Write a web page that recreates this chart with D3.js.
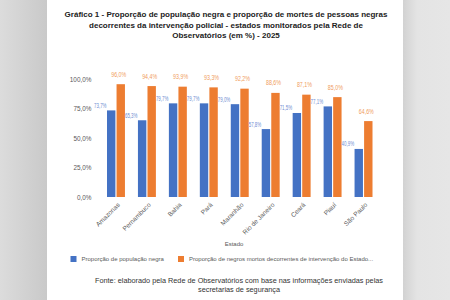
<!DOCTYPE html>
<html>
<head>
<meta charset="utf-8">
<script src="https://cdn.jsdelivr.net/npm/d3@7"></script>
<style>
  body { margin: 0; background: #fff; }
  svg { display: block; }
</style>
</head>
<body>
<script>
const estados = ['Amazonas', 'Pernambuco', 'Bahia', 'Pará', 'Maranhão', 'Rio de Janeiro', 'Ceará', 'Piauí', 'São Paulo']
const populacaoNegra = [73.7, 65.3, 79.7, 79.7, 79.0, 57.8, 71.5, 77.1, 40.9]
const mortesNegros = [96.0, 94.4, 93.9, 93.3, 92.2, 88.6, 87.1, 85.0, 64.6]
const yTicks = [0, 25, 50, 75, 100]
const series = ['Proporção de população negra', 'Proporção de negros mortos decorrentes de intervenção do Estado...']
const titulo = [
    'Gráfico 1 - Proporção de população negra e proporção de mortes de pessoas negras',
    'decorrentes da intervenção policial - estados monitorados pela Rede de',
    'Observatórios (em %) - 2025'
]
const fonte = [
    'Fonte: elaborado pela Rede de Observatórios com base nas informações enviadas pelas',
    'secretarias de segurança'
]

const W = 450, H = 300
const colors = ['#4472C4', '#ED7D31']
const labelColors = ['#6f8ed2', '#f09d5e']
const fmt = v => d3.format('.1f')(v).replace('.', ',') + '%'

const svg = d3.select('body').append('svg')
    .attr('width', W)
    .attr('height', H)
    .style('font-family', 'Liberation Sans, Arial, sans-serif')

// page background (screenshot look)
const defs = svg.append('defs')
const gl = defs.append('linearGradient').attr('id', 'gl')
gl.append('stop').attr('offset', '0%').attr('stop-color', '#dcdcdc')
gl.append('stop').attr('offset', '100%').attr('stop-color', '#c9c9c9')
const gr = defs.append('linearGradient').attr('id', 'gr')
gr.append('stop').attr('offset', '0%').attr('stop-color', '#d2d2d2')
gr.append('stop').attr('offset', '30%').attr('stop-color', '#e4e4e4')
gr.append('stop').attr('offset', '100%').attr('stop-color', '#e6e6e6')

svg.append('rect').attr('width', W).attr('height', H).attr('fill', '#fff')
svg.append('rect').attr('x', 0).attr('y', 0).attr('width', 47).attr('height', H).attr('fill', 'url(#gl)')
svg.append('rect').attr('x', 403).attr('y', 0).attr('width', 47).attr('height', H).attr('fill', 'url(#gr)')

// title
svg.append('g').selectAll('text')
    .data(titulo)
    .enter().append('text')
    .attr('x', 226)
    .attr('y', (d, i) => 17 + i * 10.5)
    .attr('text-anchor', 'middle')
    .attr('font-size', 8)
    .attr('font-weight', 'bold')
    .attr('fill', '#222')
    .text(d => d)

// scales
const x = d3.scaleBand()
    .domain(estados)
    .range([100.5, 379])
    .paddingInner(0.42)
    .paddingOuter(0.21)

const xs = d3.scaleBand()
    .domain([0, 1])
    .range([0, x.bandwidth()])
    .paddingInner(0.12)

const y = d3.scaleLinear()
    .domain([0, 100])
    .range([197, 79.5])

// y axis
const yAxis = svg.append('g')
    .attr('transform', 'translate(91.5,0)')
    .call(d3.axisLeft(y).tickValues(yTicks).tickSize(0).tickPadding(0).tickFormat(d => fmt(d)))
yAxis.select('.domain').remove()
yAxis.selectAll('text')
    .attr('font-size', 6.4)
    .attr('fill', '#595959')
    .style('font-family', 'Liberation Sans, Arial, sans-serif')

// x axis
const xAxis = svg.append('g')
    .attr('transform', 'translate(0,199)')
    .call(d3.axisBottom(x).tickSize(0).tickPadding(0))
xAxis.select('.domain').remove()
xAxis.selectAll('text')
    .attr('font-size', 6.5)
    .attr('fill', '#595959')
    .style('font-family', 'Liberation Sans, Arial, sans-serif')
    .attr('text-anchor', 'end')
    .attr('dy', '0.5em')
    .attr('transform', 'translate(2,4) rotate(-45)')

// bars
const grupos = svg.append('g')
    .selectAll('g')
    .data(estados)
    .enter().append('g')
    .attr('transform', d => 'translate(' + x(d) + ',0)')

const vals = [populacaoNegra, mortesNegros]

grupos.selectAll('rect')
    .data((d, i) => vals.map((s, k) => ({ k: k, v: s[i] })))
    .enter().append('rect')
    .attr('x', d => xs(d.k))
    .attr('y', d => y(d.v))
    .attr('width', xs.bandwidth())
    .attr('height', d => y(0) - y(d.v))
    .attr('fill', d => colors[d.k])

// data labels (condensed, like the Calibri labels of the original)
grupos.selectAll('text')
    .data((d, i) => vals.map((s, k) => ({ k: k, v: s[i] })))
    .enter().append('text')
    .attr('x', d => d.k === 0 ? xs(0) - 13 : xs(1) + xs.bandwidth() / 2 - 9.5)
    .attr('y', d => d.k === 0 ? y(d.v) - 2.5 : y(d.v) - 7.5)
    .attr('font-size', 6.3)
    .attr('textLength', d => d.k === 0 ? 12.5 : 15)
    .attr('lengthAdjust', 'spacingAndGlyphs')
    .attr('fill', d => labelColors[d.k])
    .text(d => fmt(d.v))

// axis title
svg.append('text')
    .attr('x', 234)
    .attr('y', 246)
    .attr('text-anchor', 'middle')
    .attr('font-size', 6)
    .attr('fill', '#595959')
    .text('Estado')

// legend
const legendX = [70.5, 178]
const legend = svg.append('g')
    .selectAll('g')
    .data(series)
    .enter().append('g')
    .attr('transform', (d, i) => 'translate(' + legendX[i] + ',256)')
legend.append('rect')
    .attr('width', 6)
    .attr('height', 6)
    .attr('fill', (d, i) => colors[i])
legend.append('text')
    .attr('x', 11)
    .attr('y', 5.3)
    .attr('font-size', 6)
    .attr('fill', '#595959')
    .text(d => d)

// source
svg.append('g').selectAll('text')
    .data(fonte)
    .enter().append('text')
    .attr('x', 239)
    .attr('y', (d, i) => 283 + i * 9)
    .attr('text-anchor', 'middle')
    .attr('font-size', 7.3)
    .attr('fill', '#333')
    .text(d => d)
</script>
</body>
</html>
